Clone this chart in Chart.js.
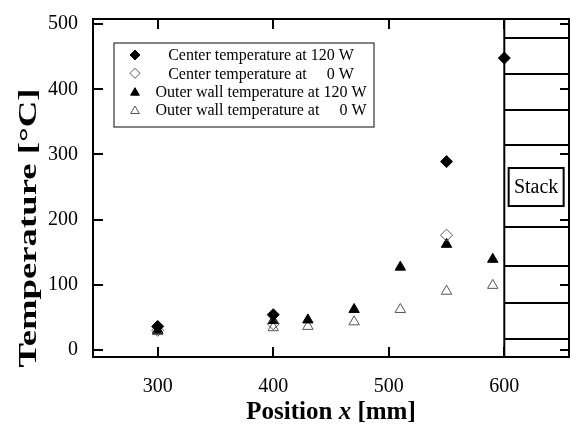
<!DOCTYPE html>
<html><head><meta charset="utf-8">
<script src="https://cdn.jsdelivr.net/npm/chart.js@4.4.0/dist/chart.umd.min.js"></script>
<style>html,body{margin:0;padding:0;background:#fff;}#wrap{width:576px;height:427px;}</style>
</head><body><div id="wrap"><canvas id="c" width="576" height="427"></canvas></div>
<script>
// ---- data ----
const seriesPrefix = ['Center temperature at', 'Center temperature at', 'Outer wall temperature at', 'Outer wall temperature at'];
const seriesPower = ['120 W', '0 W', '120 W', '0 W'];
const center120X = [300, 400, 550, 600];
const center120Y = [36, 54, 289, 448];
const center0X = [300, 400, 550];
const center0Y = [30, 40, 176];
const outer120X = [300, 400, 430, 470, 510, 550, 590];
const outer120Y = [30, 45, 46, 62, 127, 162, 139];
const outer0X = [300, 400, 430, 470, 510, 550, 590];
const outer0Y = [28, 34, 36, 43, 62, 90, 99];
const xTicks = [300, 400, 500, 600];
const yTicks = [0, 100, 200, 300, 400, 500];
const stackStartX = 600;
const stackPlateY = [479, 423, 369, 315, 188, 129, 72, 17];
const stackLabel = 'Stack';
const xTitle = ['Position ', 'x', ' [mm]'];
const yTitle = 'Temperature [°C]';

const pts = (xs, ys) => xs.map((x, i) => ({x: x, y: ys[i]}));
const FONT = '"Liberation Serif", "Times New Roman", serif';
const GREY = '#555';

const styles = [
  {pointStyle: 'rectRot', radius: 6, bg: '#000', bd: '#000', bw: 1},
  {pointStyle: 'rectRot', radius: 6, bg: 'rgba(255,255,255,0)', bd: GREY, bw: 1},
  {pointStyle: 'triangle', radius: 6, bg: '#000', bd: '#000', bw: 1},
  {pointStyle: 'triangle', radius: 6, bg: 'rgba(255,255,255,0)', bd: GREY, bw: 1}
];
const dataSets = [pts(center120X, center120Y), pts(center0X, center0Y), pts(outer120X, outer120Y), pts(outer0X, outer0Y)];

const decor = {
  id: 'decor',
  beforeDatasetsDraw(chart) {
    const {ctx, chartArea: a, scales: {x, y}} = chart;
    ctx.save();
    ctx.strokeStyle = '#000';
    ctx.lineWidth = 2;
    // stack
    const sx = x.getPixelForValue(stackStartX);
    ctx.beginPath();
    ctx.moveTo(sx, a.top); ctx.lineTo(sx, a.bottom);
    stackPlateY.forEach(v => {
      const py = Math.round(y.getPixelForValue(v));
      ctx.moveTo(sx, py); ctx.lineTo(a.right, py);
    });
    ctx.stroke();
    // stack label box
    ctx.font = '20px ' + FONT;
    const cx = (sx + a.right) / 2;
    const cy = y.getPixelForValue(250);
    ctx.fillStyle = '#fff';
    ctx.fillRect(cx - 28, cy - 19, 55, 38);
    ctx.strokeRect(cx - 28, cy - 19, 55, 38);
    ctx.fillStyle = '#000';
    ctx.textAlign = 'center'; ctx.textBaseline = 'middle';
    ctx.fillText(stackLabel, cx - 0.5, cy + 1);
    // frame
    ctx.strokeRect(a.left, a.top, a.right - a.left, a.bottom - a.top);
    // inward ticks
    ctx.beginPath();
    yTicks.forEach(v => {
      const py = Math.round(y.getPixelForValue(v));
      ctx.moveTo(a.left, py); ctx.lineTo(a.left + 10, py);
      ctx.moveTo(a.right, py); ctx.lineTo(a.right - 9, py);
    });
    xTicks.forEach(v => {
      const px = Math.round(x.getPixelForValue(v));
      ctx.moveTo(px, a.bottom); ctx.lineTo(px, a.bottom - 10);
      ctx.moveTo(px, a.top); ctx.lineTo(px, a.top + 10);
    });
    ctx.stroke();
    ctx.restore();
  },
  afterDraw(chart) {
    const {ctx, chartArea: a} = chart;
    ctx.save();
    // x title
    ctx.fillStyle = '#000';
    ctx.textBaseline = 'alphabetic';
    ctx.textAlign = 'left';
    const fonts = ['bold 25px ' + FONT, 'bold italic 25px ' + FONT, 'bold 25px ' + FONT];
    let widths = xTitle.map((t, i) => { ctx.font = fonts[i]; return ctx.measureText(t).width; });
    let total = widths.reduce((s, w) => s + w, 0);
    let px = (a.left + a.right) / 2 - total / 2;
    xTitle.forEach((t, i) => { ctx.font = fonts[i]; ctx.fillText(t, px, 419); px += widths[i]; });
    // y title (stretched as in reference)
    ctx.save();
    ctx.translate(36, 228);
    ctx.rotate(-Math.PI / 2);
    ctx.font = 'bold 25px ' + FONT;
    const yw = ctx.measureText(yTitle).width;
    ctx.scale(279 / yw, 1);
    ctx.textAlign = 'center';
    ctx.fillText(yTitle, 0, 0);
    ctx.restore();
    // legend
    const L = 114, T = 43, R = 374, B = 127;
    ctx.strokeStyle = '#333';
    ctx.lineWidth = 1.2;
    ctx.strokeRect(L, T, R - L, B - T);
    ctx.font = '16px ' + FONT;
    ctx.textBaseline = 'middle';
    const rows = [55, 73.3, 91.7, 110];
    const center = 261;
    seriesPrefix.forEach((p, i) => {
      const st = styles[i];
      ctx.fillStyle = st.bg; ctx.strokeStyle = st.bd; ctx.lineWidth = st.bw;
      Chart.helpers.drawPoint(ctx, {pointStyle: st.pointStyle, radius: 5, borderWidth: st.bw}, 135, rows[i] + (st.pointStyle === 'triangle' ? 1 : 0));
      const full = p + ' 120 W';
      const w = ctx.measureText(full).width;
      const start = center - w / 2;
      ctx.fillStyle = '#000';
      ctx.textAlign = 'left';
      ctx.fillText(p, start, rows[i] + 1);
      ctx.textAlign = 'right';
      ctx.fillText(seriesPower[i], start + w, rows[i] + 1);
    });
    ctx.restore();
  }
};

new Chart(document.getElementById('c'), {
  type: 'scatter',
  data: {
    datasets: dataSets.map((d, i) => ({
      label: seriesPrefix[i] + ' ' + seriesPower[i],
      data: d,
      pointStyle: styles[i].pointStyle,
      pointRadius: styles[i].radius,
      pointBackgroundColor: styles[i].bg,
      pointBorderColor: styles[i].bd,
      pointBorderWidth: styles[i].bw,
      showLine: false
    }))
  },
  options: {
    responsive: false,
    animation: false,
    devicePixelRatio: 1,
    layout: {padding: {top: 11, right: 3, left: 0, bottom: 0}},
    plugins: {legend: {display: false}, tooltip: {enabled: false}},
    scales: {
      x: {
        type: 'linear', min: 244, max: 656,
        afterBuildTicks: s => { s.ticks = xTicks.map(v => ({value: v})); },
        afterFit: s => { s.height = 70; },
        grid: {display: false}, border: {display: false},
        ticks: {color: '#000', font: {family: FONT, size: 20}, padding: 10, maxRotation: 0}
      },
      y: {
        type: 'linear', min: -11, max: 508,
        afterBuildTicks: s => { s.ticks = yTicks.map(v => ({value: v})); },
        afterFit: s => { s.width = 93; },
        grid: {display: false}, border: {display: false},
        ticks: {color: '#000', font: {family: FONT, size: 20}, padding: 7}
      }
    }
  },
  plugins: [decor]
});
</script></body></html>
